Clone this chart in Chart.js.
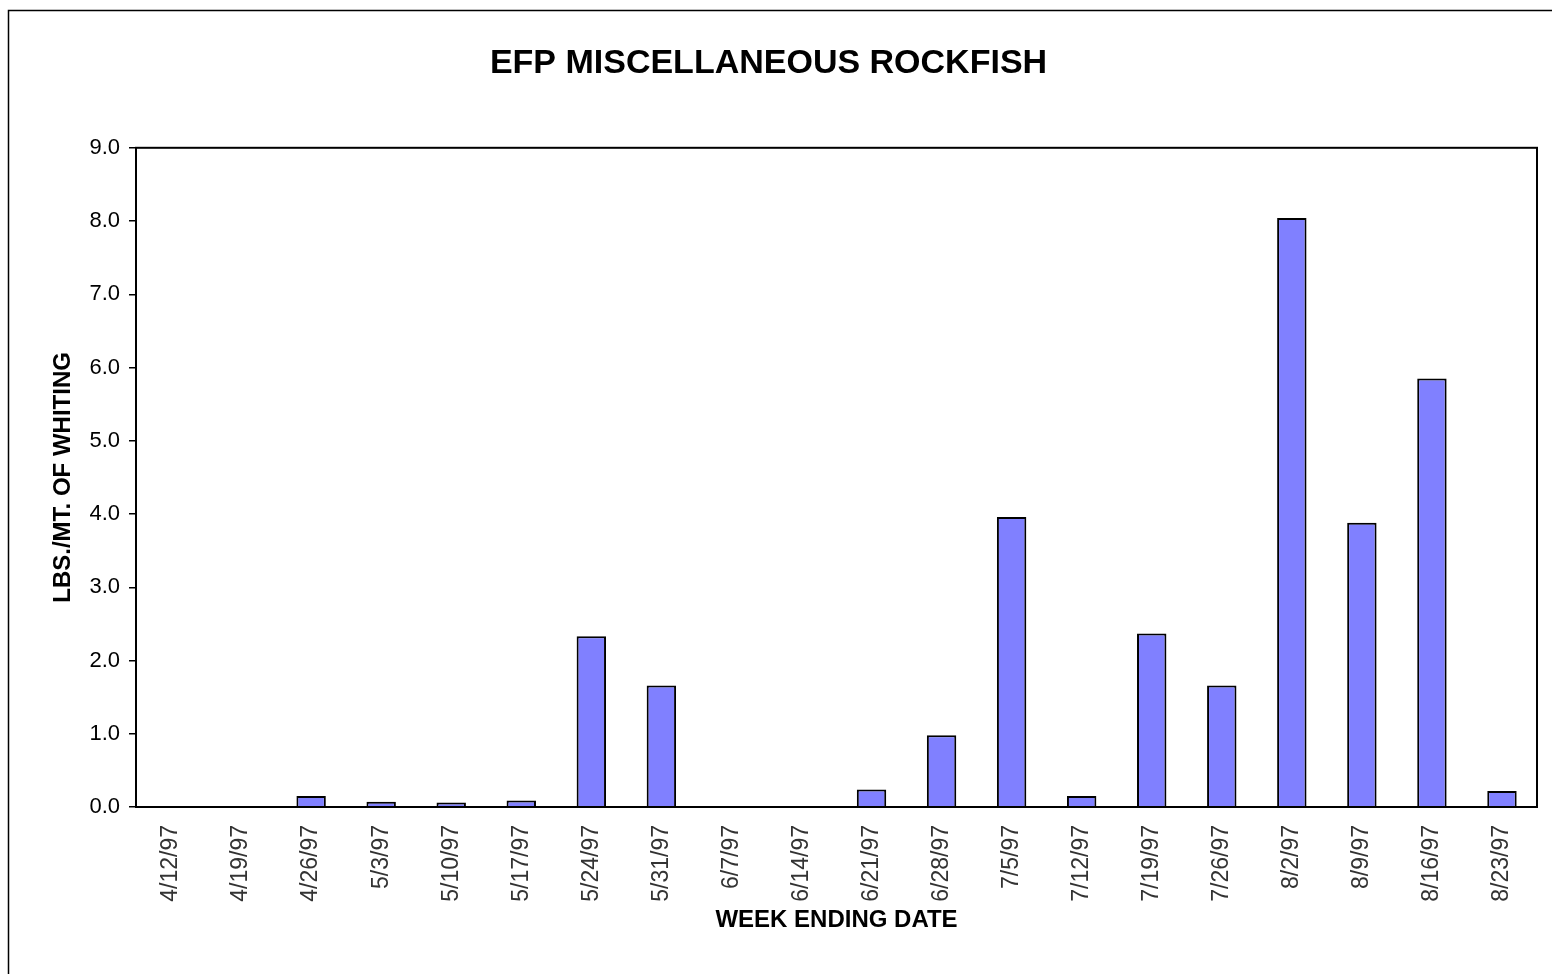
<!DOCTYPE html>
<html>
<head>
<meta charset="utf-8">
<title>EFP Miscellaneous Rockfish</title>
<script src="https://cdn.jsdelivr.net/npm/chart.js@4"></script>
<style>
  html, body { margin: 0; padding: 0; background: #fff; }
  #chart { display: block; }
</style>
</head>
<body>
<canvas id="chart" width="1552" height="974"></canvas>
<script>
const weekLabels = ['4/12/97', '4/19/97', '4/26/97', '5/3/97', '5/10/97', '5/17/97', '5/24/97',
  '5/31/97', '6/7/97', '6/14/97', '6/21/97', '6/28/97', '7/5/97', '7/12/97', '7/19/97',
  '7/26/97', '8/2/97', '8/9/97', '8/16/97', '8/23/97'];
const lbsPerMt = [0, 0, 0.15, 0.07, 0.06, 0.09, 2.33, 1.66, 0, 0, 0.24, 0.98, 3.96, 0.15, 2.37,
  1.66, 8.04, 3.88, 5.85, 0.22];
const yMin = 0;
const yMax = 9;
const yStep = 1;

const FONT = "'Liberation Sans', Arial, Helvetica, sans-serif";

// outer frame + box round the plot area
const framePlugin = {
  id: 'frame',
  beforeDraw(chart) {
    const ctx = chart.ctx;
    ctx.save();
    ctx.strokeStyle = '#000';
    ctx.lineWidth = 1.5;
    ctx.strokeRect(8.5, 10.5, chart.width + 20, chart.height + 20);
    ctx.restore();
  },
  afterDraw(chart) {
    const { left, top, right, bottom } = chart.chartArea;
    const ctx = chart.ctx;
    ctx.save();
    ctx.strokeStyle = '#000';
    ctx.lineWidth = 2;
    ctx.strokeRect(left, top, right - left, bottom - top);
    ctx.restore();
  }
};

new Chart(document.getElementById('chart'), {
  type: 'bar',
  data: {
    labels: weekLabels,
    datasets: [{
      label: 'LBS./MT. OF WHITING',
      data: lbsPerMt,
      backgroundColor: '#8080FF',
      borderColor: '#000',
      borderWidth: 2,
      categoryPercentage: 1,
      barPercentage: 0.42
    }]
  },
  options: {
    responsive: false,
    animation: false,
    devicePixelRatio: 1,
    layout: {
      padding: { left: 0, right: 15, top: 0, bottom: 0 }
    },
    plugins: {
      legend: { display: false },
      tooltip: { enabled: false },
      title: {
        display: true,
        text: 'EFP MISCELLANEOUS ROCKFISH',
        color: '#000',
        font: { family: FONT, size: 34, weight: 'bold' },
        padding: { top: 43, bottom: 64 }
      }
    },
    scales: {
      x: {
        grid: { display: false },
        border: { display: true, color: '#000', width: 2 },
        ticks: {
          color: '#333',
          font: { family: FONT, size: 23 },
          minRotation: 90,
          maxRotation: 90,
          autoSkip: false,
          padding: 10
        },
        title: {
          display: true,
          text: 'WEEK ENDING DATE',
          color: '#000',
          font: { family: FONT, size: 24, weight: 'bold' },
          padding: { top: 0, bottom: 39 }
        },
        afterFit(scale) {
          scale.height = 167;
        }
      },
      y: {
        min: yMin,
        max: yMax,
        grid: {
          display: true,
          drawOnChartArea: false,
          drawTicks: true,
          tickLength: 7,
          color: '#000',
          lineWidth: 1.5
        },
        border: { display: true, color: '#000', width: 2 },
        ticks: {
          stepSize: yStep,
          color: '#000',
          font: { family: FONT, size: 22 },
          padding: 9,
          callback: v => v.toFixed(1)
        },
        title: {
          display: true,
          text: 'LBS./MT. OF WHITING',
          color: '#000',
          font: { family: FONT, size: 24, weight: 'bold' },
          padding: { top: 49, bottom: 0 }
        },
        afterFit(scale) {
          scale.width = 136;
        }
      }
    }
  },
  plugins: [framePlugin]
});
</script>
</body>
</html>
